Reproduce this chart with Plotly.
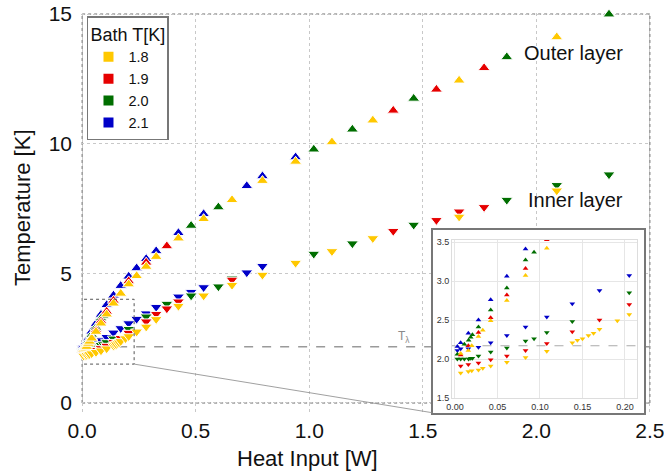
import plotly.graph_objects as go

# ---------------- data ----------------
bath_temps = ["1.8", "1.9", "2.0", "2.1"]
bath_colors = ["#FFC800", "#E60000", "#006E00", "#0000C8"]

# Bath 1.8 K
q_out_18 = [0.0067, 0.0157, 0.0197, 0.0276, 0.0327, 0.042, 0.061, 0.083, 0.108, 0.138, 0.170, 0.205,
            0.240, 0.282, 0.326, 0.424, 0.535, 0.660, 0.794, 0.940, 1.100, 1.280, 1.660, 2.090]
t_out_18 = [2.07, 2.11, 2.17, 2.29, 2.37, 2.49, 2.75, 3.07, 3.42, 3.84, 4.22, 4.58,
            4.90, 5.26, 5.64, 6.35, 7.10, 7.83, 8.57, 9.31, 10.06, 10.90, 12.44, 14.11]
q_in_18 = [0.0067, 0.0157, 0.0197, 0.0276, 0.0327, 0.042, 0.061, 0.083, 0.108, 0.138, 0.144, 0.150,
           0.157, 0.163, 0.170, 0.191, 0.205, 0.240, 0.282, 0.326, 0.424, 0.535, 0.660, 0.794,
           0.940, 1.100, 1.280, 1.660, 2.090]
t_in_18 = [1.82, 1.84, 1.85, 1.86, 1.88, 1.91, 1.96, 2.02, 2.10, 2.21, 2.24, 2.26,
           2.30, 2.33, 2.38, 2.49, 2.57, 2.75, 2.94, 3.23, 3.74, 4.14, 4.55, 4.94,
           5.40, 5.85, 6.35, 7.18, 8.19]

# Bath 1.9 K
q_out_19 = [0.0067, 0.0157, 0.0276, 0.042, 0.061, 0.083, 0.108, 0.138, 0.205, 0.282, 0.373,
            1.370, 1.560, 1.770]
t_out_19 = [2.05, 2.17, 2.34, 2.53, 2.82, 3.16, 3.53, 3.95, 4.70, 5.42, 6.05,
            11.28, 12.09, 12.92]
q_in_19 = [0.0067, 0.0157, 0.0276, 0.042, 0.061, 0.083, 0.108, 0.138, 0.170, 0.205, 0.282,
           0.326, 0.373, 0.424, 0.660, 1.370, 1.560, 1.660, 1.770]
t_in_19 = [1.91, 1.93, 1.95, 1.99, 2.04, 2.11, 2.20, 2.35, 2.50, 2.70, 3.14,
           3.43, 3.64, 3.91, 4.75, 6.63, 7.05, 7.38, 7.55]

# Bath 2.0 K
q_out_20 = [0.0028, 0.011, 0.016, 0.0185, 0.0205, 0.0276, 0.042, 0.061, 0.083, 0.093,
            0.480, 0.600, 1.020, 1.190, 1.460, 1.870, 2.320]
t_out_20 = [2.06, 2.19, 2.24, 2.28, 2.31, 2.41, 2.63, 2.91, 3.27, 3.37,
            6.84, 7.55, 9.78, 10.55, 11.74, 13.34, 14.99]
q_in_20 = [0.0028, 0.0067, 0.011, 0.016, 0.0185, 0.0205, 0.0276, 0.042, 0.061, 0.083, 0.093,
           0.108, 0.138, 0.205, 0.282, 0.373, 0.480, 0.600, 0.660, 1.020, 1.190, 1.460,
           1.870, 2.090, 2.320]
t_in_20 = [2.00, 2.00, 2.00, 2.00, 2.01, 2.01, 2.04, 2.09, 2.14, 2.23, 2.26,
           2.34, 2.48, 2.85, 3.33, 3.82, 4.14, 4.49, 4.80, 5.75, 6.15, 6.87,
           7.83, 8.40, 8.81]

# Bath 2.1 K
q_out_21 = [0.0028, 0.0067, 0.0157, 0.0276, 0.042, 0.061, 0.083, 0.108, 0.138, 0.170, 0.205,
            0.240, 0.282, 0.326, 0.424, 0.535, 0.725, 0.794, 0.940]
t_out_21 = [2.16, 2.21, 2.33, 2.50, 2.76, 3.06, 3.41, 3.78, 4.15, 4.52, 4.88,
            5.20, 5.56, 5.86, 6.56, 7.29, 8.37, 8.75, 9.48]
q_in_21 = [0.0028, 0.0067, 0.0157, 0.0276, 0.042, 0.061, 0.083, 0.108, 0.138, 0.170, 0.205,
           0.240, 0.282, 0.326, 0.424, 0.480, 0.535, 0.725, 0.794]
t_in_21 = [2.11, 2.13, 2.13, 2.15, 2.21, 2.30, 2.41, 2.54, 2.71, 2.88, 3.07,
           3.24, 3.45, 3.70, 4.10, 4.28, 4.46, 5.03, 5.28]

t_lambda = 2.17
x_ticks_main = [0.0, 0.5, 1.0, 1.5, 2.0, 2.5]
y_ticks_main = [0, 5, 10, 15]
x_ticks_inset = [0.00, 0.05, 0.10, 0.15, 0.20]
y_ticks_inset = [1.5, 2.0, 2.5, 3.0, 3.5]
zoom_box_q = [-0.018, 0.229]
zoom_box_t = [1.5, 4.0]

series = {
    "1.8": (q_out_18, t_out_18, q_in_18, t_in_18),
    "1.9": (q_out_19, t_out_19, q_in_19, t_in_19),
    "2.0": (q_out_20, t_out_20, q_in_20, t_in_20),
    "2.1": (q_out_21, t_out_21, q_in_21, t_in_21),
}
color_of = dict(zip(bath_temps, bath_colors))

FONT = "Liberation Sans, Arial, Helvetica, sans-serif"

fig = go.Figure()

# T_lambda dashed lines (main and inset)
fig.add_trace(go.Scatter(x=[0, 2.5], y=[t_lambda, t_lambda], mode="lines",
                         line=dict(color="#9a9a9a", width=1.5, dash="dash"),
                         showlegend=False, hoverinfo="skip"))
fig.add_trace(go.Scatter(x=[-0.01, 0.22], y=[t_lambda, t_lambda], mode="lines",
                         line=dict(color="#aaaaaa", width=1, dash="dash"),
                         xaxis="x3", yaxis="y3", showlegend=False, hoverinfo="skip"))

# frame subplot (white box with border behind inset)
fig.add_trace(go.Scatter(x=[None], y=[None], xaxis="x2", yaxis="y2",
                         showlegend=False, hoverinfo="skip"))

draw_order = ["2.1", "2.0", "1.9", "1.8"]
for bt in draw_order:
    qo, to, qi, ti = series[bt]
    c = color_of[bt]
    fig.add_trace(go.Scatter(x=qo, y=to, mode="markers", showlegend=False,
                             marker=dict(symbol="triangle-up", size=10.5, color=c,
                                         line=dict(color="white", width=1)),
                             cliponaxis=False))
    fig.add_trace(go.Scatter(x=qi, y=ti, mode="markers", showlegend=False,
                             marker=dict(symbol="triangle-down", size=10.5, color=c,
                                         line=dict(color="white", width=1)),
                             cliponaxis=False))
for bt in draw_order:
    qo, to, qi, ti = series[bt]
    c = color_of[bt]
    fig.add_trace(go.Scatter(x=qo, y=to, mode="markers", showlegend=False,
                             xaxis="x3", yaxis="y3",
                             marker=dict(symbol="triangle-up", size=5, color=c)))
    fig.add_trace(go.Scatter(x=qi, y=ti, mode="markers", showlegend=False,
                             xaxis="x3", yaxis="y3",
                             marker=dict(symbol="triangle-down", size=5, color=c)))

# legend entries (square symbols)
for bt in bath_temps:
    fig.add_trace(go.Scatter(x=[None], y=[None], mode="markers", name=bt,
                             marker=dict(symbol="square", size=10, color=color_of[bt])))

grid_col = "#c8c8c8"
border_col = "#666666"
shapes = []
# dotted plot border
for (x0, y0, x1, y1) in [(0, 0, 0, 15), (2.5, 0, 2.5, 15), (0, 0, 2.5, 0), (0, 15, 2.5, 15)]:
    shapes.append(dict(type="line", xref="x", yref="y", x0=x0, y0=y0, x1=x1, y1=y1,
                       line=dict(color=border_col, width=1, dash="dot"), layer="below"))
# zoom rectangle
shapes.append(dict(type="rect", xref="x", yref="y", x0=zoom_box_q[0], x1=zoom_box_q[1],
                   y0=zoom_box_t[0], y1=zoom_box_t[1],
                   line=dict(color="#555555", width=1, dash="dot")))
# connector line
shapes.append(dict(type="line", xref="x", yref="y", x0=zoom_box_q[1], y0=zoom_box_t[0],
                   x1=1.545, y1=-0.38, line=dict(color="#888888", width=0.8)))

annotations = [
    dict(text="Outer layer", x=1.937, y=13.5, xref="x", yref="y", xanchor="left",
         yanchor="middle", showarrow=False, font=dict(size=20, color="#111", family=FONT)),
    dict(text="Inner layer", x=1.954, y=7.83, xref="x", yref="y", xanchor="left",
         yanchor="middle", showarrow=False, font=dict(size=20, color="#111", family=FONT)),
    dict(text="T<sub>λ</sub>", x=1.417, y=t_lambda, xref="x", yref="y", xanchor="center",
         yanchor="bottom", showarrow=False, font=dict(size=12, color="#8a8a8a", family=FONT)),
    dict(text="Temperature [K]", x=-0.1035, y=0.5125, xref="paper", yref="paper",
         xanchor="center", yanchor="middle",
         textangle=-90, showarrow=False, font=dict(size=22, color="#111", family=FONT)),
    dict(text="Heat Input [W]", x=0.3965, y=-0.1125, xref="paper", yref="paper",
         xanchor="center", yanchor="middle",
         showarrow=False, font=dict(size=22, color="#111", family=FONT)),
]

common_main = dict(showgrid=True, gridcolor=grid_col, griddash="dot", gridwidth=1,
                   zeroline=False, showline=False, ticks="", tickfont=dict(size=21, color="#111"),
                   automargin=False, ticklabeloverflow="allow")

fig.update_layout(
    template="none",
    width=664, height=476,
    margin=dict(l=81, r=13, t=13, b=63, autoexpand=False),
    paper_bgcolor="white", plot_bgcolor="white",
    font=dict(family=FONT, color="#111"),
    showlegend=True,
    legend=dict(x=0.0105, y=0.9925, xanchor="left", yanchor="top",
                bgcolor="white", bordercolor="#777", borderwidth=1.5,
                title=dict(text="Bath T[K]", font=dict(size=18)),
                font=dict(size=14.5), itemwidth=30, tracegroupgap=0,
                entrywidth=48, entrywidthmode="pixels"),
    xaxis=dict(range=[-0.005, 2.505], tickvals=x_ticks_main, tickformat=".1f",
               ticklabelstandoff=3, **common_main),
    yaxis=dict(range=[-0.386, 15.04], tickvals=y_ticks_main,
               ticklabelstandoff=8, **common_main),
    xaxis2=dict(domain=[0.6175, 0.9877], range=[0, 1], anchor="y2", showgrid=False,
                zeroline=False, showticklabels=False, ticks="", showline=True,
                mirror=True, linecolor="#777", linewidth=1.5, fixedrange=True,
                automargin=False),
    yaxis2=dict(domain=[0.0, 0.4575], range=[0, 1], anchor="x2", showgrid=False,
                zeroline=False, showticklabels=False, ticks="", showline=True,
                mirror=True, linecolor="#777", linewidth=1.5, fixedrange=True,
                automargin=False),
    xaxis3=dict(domain=[0.6509, 0.9754], range=[-0.0035, 0.2141], anchor="y3",
                tickvals=x_ticks_inset, tickformat=".2f", showgrid=True,
                gridcolor="#e6e6e6", zeroline=False, showline=True, mirror=True,
                linecolor="#dddddd", ticks="", tickfont=dict(size=9, color="#333"),
                automargin=False),
    yaxis3=dict(domain=[0.0375, 0.4325], range=[1.5, 3.526], anchor="x3",
                tickvals=y_ticks_inset, tickformat=".1f", showgrid=True,
                gridcolor="#e6e6e6", zeroline=False, showline=True, mirror=True,
                linecolor="#dddddd", ticks="", tickfont=dict(size=9, color="#333"),
                automargin=False),
    shapes=shapes,
    annotations=annotations,
)

# remove the default page margin so the 664x476 figure fills the window exactly
fig.write_html("out.html",
               config={"displayModeBar": False},
               post_script="document.body.style.margin='0px';document.body.style.overflow='hidden';")
